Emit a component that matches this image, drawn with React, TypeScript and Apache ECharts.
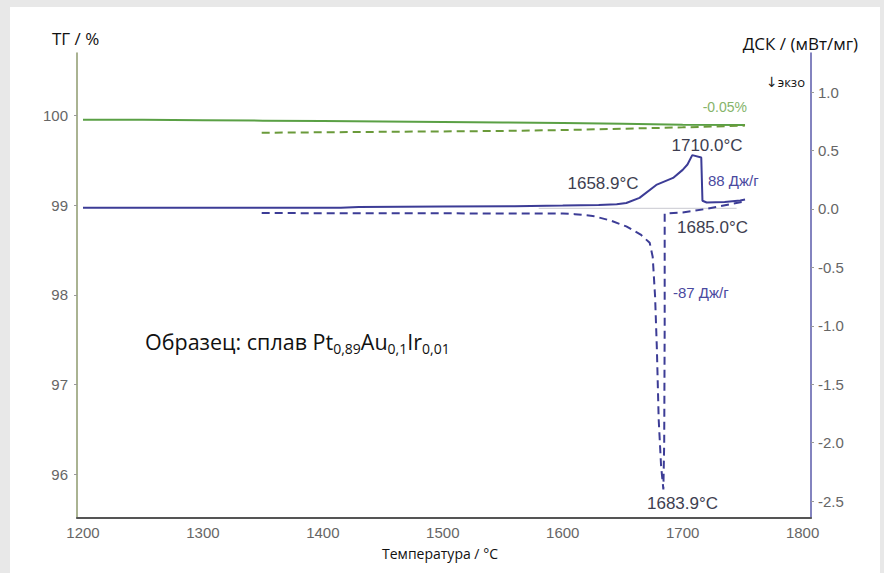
import React, { useEffect, useRef } from "react";
import * as echarts from "echarts";

// ---- data ----
const xTicks = [1200, 1300, 1400, 1500, 1600, 1700, 1800];
const tgTicks = [96, 97, 98, 99, 100];
const dscTicks = [-2.5, -2.0, -1.5, -1.0, -0.5, 0.0, 0.5, 1.0];

const tgHeatT = [1200, 1250, 1300, 1350, 1400, 1450, 1500, 1550, 1600, 1650, 1700, 1752];
const tgHeat = [99.955, 99.955, 99.95, 99.945, 99.94, 99.935, 99.93, 99.925, 99.92, 99.91, 99.9, 99.895];

const tgCoolT = [1349, 1400, 1450, 1500, 1550, 1600, 1650, 1700, 1752];
const tgCool = [99.81, 99.815, 99.82, 99.825, 99.83, 99.84, 99.855, 99.87, 99.89];

const dscHeatT = [1200, 1300, 1400, 1415, 1430, 1500, 1560, 1600, 1630, 1645, 1653, 1664, 1678, 1692, 1700, 1704, 1708, 1715.5, 1716.5, 1720, 1735, 1748, 1752];
const dscHeat = [0.01, 0.01, 0.01, 0.01, 0.017, 0.02, 0.022, 0.028, 0.034, 0.04, 0.05, 0.094, 0.205, 0.265, 0.334, 0.38, 0.46, 0.44, 0.07, 0.055, 0.06, 0.072, 0.08];

const dscCoolT = [1349, 1400, 1500, 1600, 1610, 1625, 1640, 1653, 1665, 1672.5, 1675, 1677, 1678.5, 1680, 1682, 1683.9, 1684.6, 1685, 1685, 1700, 1720, 1740, 1752];
const dscCool = [-0.035, -0.037, -0.038, -0.04, -0.045, -0.06, -0.1, -0.15, -0.22, -0.29, -0.41, -0.75, -1.2, -1.8, -2.2, -2.4, -2.0, -1.0, -0.04, -0.03, 0.0, 0.04, 0.065];

const baseT = [1580, 1745];
const baseV = [0.005, 0.005];

const zip = (a: number[], b: number[]) => a.map((v, i) => [v, b[i]]);

const TICK_FONT = "Liberation Sans";
const TITLE_FONT = "Open Sans";

export default function App() {
  const ref = useRef<HTMLDivElement>(null);
  useEffect(() => {
    document.body.style.margin = "0";
    const chart = echarts.init(ref.current!, null, { renderer: "svg" });
    const annot = (text: string, x: number, y: number, fill: string, size = 17, align = "center") => ({
      type: "text",
      x,
      y,
      style: { text, fill, fontSize: size, fontFamily: TICK_FONT, align, verticalAlign: "middle" },
    });
    chart.setOption({
      animation: false,
      backgroundColor: "transparent",
      grid: { left: 77, right: 73, top: 53, bottom: 55 },
      xAxis: {
        type: "value",
        min: 1195,
        max: 1807,
        axisLine: { show: true, onZero: false, lineStyle: { color: "#555", width: 2 } },
        axisTick: { show: false },
        splitLine: { show: false },
        axisLabel: {
          customValues: xTicks,
          color: "#666",
          fontSize: 15,
          fontFamily: TICK_FONT,
          margin: 7,
          formatter: (v: number) => String(v),
        },
      },
      yAxis: [
        {
          type: "value",
          position: "left",
          min: 95.51,
          max: 100.7,
          axisLine: { show: true, lineStyle: { color: "#8e9a6e", width: 1.5 } },
          axisTick: { show: true, customValues: tgTicks, length: 3, lineStyle: { color: "#999" } },
          splitLine: { show: false },
          axisLabel: {
            customValues: tgTicks,
            color: "#666",
            fontSize: 15,
            fontFamily: TICK_FONT,
            margin: 9,
            formatter: (v: number) => String(v),
          },
        },
        {
          type: "value",
          position: "right",
          min: -2.645,
          max: 1.334,
          axisLine: { show: true, lineStyle: { color: "#5a5aaa", width: 1.5 } },
          axisTick: { show: true, customValues: dscTicks, length: 3, lineStyle: { color: "#999" } },
          splitLine: { show: false },
          axisLabel: {
            customValues: dscTicks,
            color: "#666",
            fontSize: 15,
            fontFamily: TICK_FONT,
            margin: 7,
            formatter: (v: number) => v.toFixed(1),
          },
        },
      ],
      series: [
        {
          type: "line",
          yAxisIndex: 1,
          data: zip(baseT, baseV),
          showSymbol: false,
          silent: true,
          lineStyle: { color: "#c8c8d0", width: 1 },
          z: 1,
        },
        {
          type: "line",
          yAxisIndex: 0,
          data: zip(tgHeatT, tgHeat),
          showSymbol: false,
          lineStyle: { color: "#5aa045", width: 2 },
        },
        {
          type: "line",
          yAxisIndex: 0,
          data: zip(tgCoolT, tgCool),
          showSymbol: false,
          lineStyle: { color: "#6a9a3a", width: 2, type: [8, 5] },
        },
        {
          type: "line",
          yAxisIndex: 1,
          data: zip(dscHeatT, dscHeat),
          showSymbol: false,
          lineStyle: { color: "#3c3c96", width: 2 },
        },
        {
          type: "line",
          yAxisIndex: 1,
          data: zip(dscCoolT, dscCool),
          showSymbol: false,
          lineStyle: { color: "#3c3c96", width: 2, type: [8, 5] },
        },
      ],
      graphic: [
        { type: "text", x: 52, y: 38, style: { text: "ТГ / %", fill: "#111", fontSize: 17, fontFamily: TITLE_FONT, align: "left", verticalAlign: "middle" } },
        { type: "text", x: 858, y: 43, style: { text: "ДСК / (мВт/мг)", fill: "#111", fontSize: 17, fontFamily: TITLE_FONT, align: "right", verticalAlign: "middle" } },
        {
          type: "text",
          x: 766,
          y: 82,
          style: {
            text: "{a|↓}{b|экзо}",
            align: "left",
            verticalAlign: "middle",
            rich: {
              a: { fontSize: 14, fontFamily: "DejaVu Sans", fill: "#222" },
              b: { fontSize: 13, fontFamily: TITLE_FONT, fill: "#111" },
            },
          },
        },
        { type: "text", x: 440, y: 553, style: { text: "Температура / °C", fill: "#111", fontSize: 14, fontFamily: TITLE_FONT, align: "center", verticalAlign: "middle" } },
        {
          type: "text",
          x: 145,
          y: 341,
          style: {
            text: "{m|Образец: сплав Pt}{s|0,89}{m|Au}{s|0,1}{m|Ir}{s|0,01}",
            align: "left",
            verticalAlign: "middle",
            rich: {
              m: { fontSize: 21.5, fontFamily: TITLE_FONT, fill: "#111" },
              s: { fontSize: 14, fontFamily: TITLE_FONT, fill: "#111", padding: [14, 0, 0, 0] },
            },
          },
        },
        annot("-0.05%", 747, 107, "#86b46a", 14, "right"),
        annot("1710.0°C", 707, 145, "#3e3e50"),
        annot("1658.9°C", 603, 183, "#3e3e50"),
        annot("88 Дж/г", 708, 180, "#4a4aa0", 15, "left"),
        annot("1685.0°C", 677, 227, "#3e3e50", 17, "left"),
        annot("-87 Дж/г", 673, 292, "#4a4aa0", 15, "left"),
        annot("1683.9°C", 647, 503, "#3e3e50", 17, "left"),
      ],
    });
    return () => chart.dispose();
  }, []);
  return (
    <div style={{ position: "relative", width: 884, height: 573, background: "#e8e8e8", overflow: "hidden" }}>
      <div style={{ position: "absolute", left: 10, top: 7, width: 870, height: 566, background: "#fff" }} />
      <div ref={ref} style={{ position: "absolute", left: 0, top: 0, width: 884, height: 573 }} />
    </div>
  );
}
